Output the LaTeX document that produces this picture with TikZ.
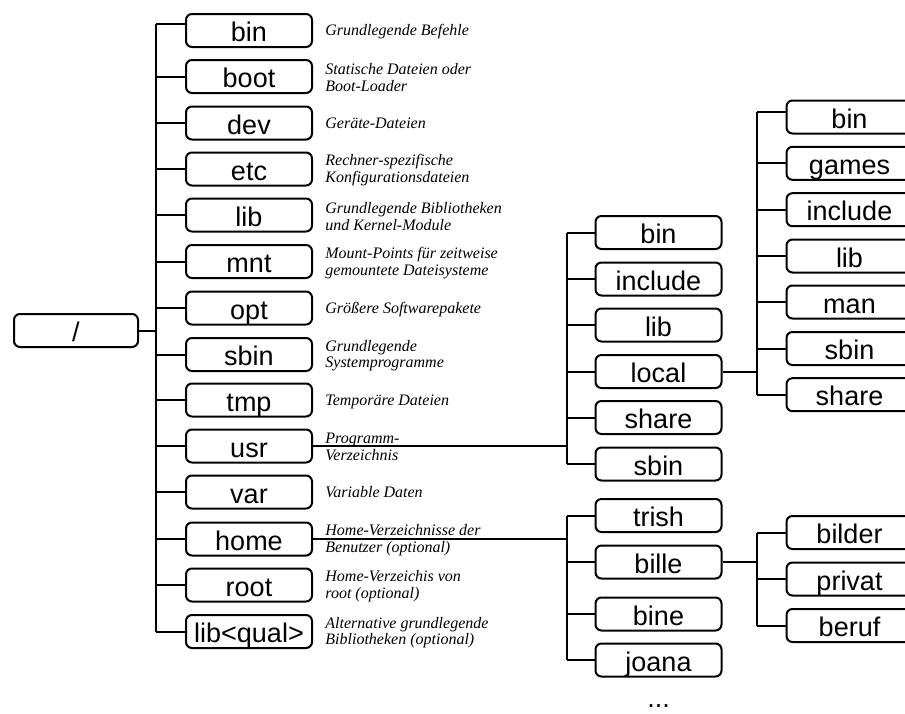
\documentclass[tikz,border=0pt]{standalone}
\usepackage{fontspec}
\setmainfont{Liberation Serif}
\setsansfont{Liberation Sans}
\usetikzlibrary{positioning}

\begin{document}
\begin{tikzpicture}[x=0.5pt, y=-0.5pt,
        dir/.style={draw=black, line width=1pt, rounded corners=3pt, minimum width=63pt, minimum height=16.5pt, inner sep=0pt, text height=11pt, text depth=0pt, font=\sffamily\fontsize{13.5}{16}\selectfont},
        desc/.style={align=left, inner sep=0pt, yshift=-0.6pt, font=\itshape\fontsize{8}{8.4}\selectfont},
        desc1/.style={desc, text height=5.6pt, text depth=1.8pt},
        link/.style={line width=1pt}]
        \useasboundingbox (0,0) rectangle (905,713);
        \clip (0,0) rectangle (905,713);
        \node [dir, minimum width=62pt] (root) at (76,330.5) {/};
        \node [dir] (bin) at (249,30.5) {bin};
        \node [dir] (boot) at (249,76.5) {boot};
        \node [dir] (dev) at (249,123) {dev};
        \node [dir] (etc) at (249,169) {etc};
        \node [dir] (lib) at (249,215) {lib};
        \node [dir] (mnt) at (249,261.5) {mnt};
        \node [dir] (opt) at (249,308) {opt};
        \node [dir] (sbin) at (249,354.5) {sbin};
        \node [dir] (tmp) at (249,400) {tmp};
        \node [dir] (usr) at (249,446) {usr};
        \node [dir] (var) at (249,492) {var};
        \node [dir] (home) at (249,539) {home};
        \node [dir] (rootdir) at (249,585) {root};
        \node [dir] (libqual) at (249,631.5) {lib<qual>};
        \node [desc1, right=6pt of bin] (dbin) {Grundlegende Befehle};
        \node [desc, right=6pt of boot] (dboot) {Statische Dateien oder\\Boot-Loader};
        \node [desc1, right=6pt of dev] (ddev) {Geräte-Dateien};
        \node [desc, right=6pt of etc] (detc) {Rechner-spezifische\\Konfigurationsdateien};
        \node [desc, right=6pt of lib] (dlib) {Grundlegende Bibliotheken\\und Kernel-Module};
        \node [desc, right=6pt of mnt] (dmnt) {Mount-Points für zeitweise\\gemountete Dateisysteme};
        \node [desc1, right=6pt of opt] (dopt) {Größere Softwarepakete};
        \node [desc, right=6pt of sbin] (dsbin) {Grundlegende\\Systemprogramme};
        \node [desc1, right=6pt of tmp] (dtmp) {Temporäre Dateien};
        \node [desc, right=6pt of usr] (dusr) {Programm-\\Verzeichnis};
        \node [desc1, right=6pt of var] (dvar) {Variable Daten};
        \node [desc, right=6pt of home] (dhome) {Home-Verzeichnisse der\\Benutzer (optional)};
        \node [desc, right=6pt of rootdir] (drootdir) {Home-Verzeichis von\\root (optional)};
        \node [desc, right=6pt of libqual] (dlibqual) {Alternative grundlegende\\Bibliotheken (optional)};

        \node [dir] (ubin) at (658.5,232.5) {bin};
        \node [dir] (uinclude) at (658.5,279) {include};
        \node [dir] (ulib) at (658.5,325) {lib};
        \node [dir] (ulocal) at (658.5,371.5) {local};
        \node [dir] (ushare) at (658.5,417.5) {share};
        \node [dir] (usbin) at (658.5,464) {sbin};

        \node [dir] (lbin) at (849.5,117) {bin};
        \node [dir] (lgames) at (849.5,163.3) {games};
        \node [dir] (linclude) at (849.5,209.7) {include};
        \node [dir] (llib) at (849.5,256) {lib};
        \node [dir] (lman) at (849.5,302) {man};
        \node [dir] (lsbin) at (849.5,348.5) {sbin};
        \node [dir] (lshare) at (849.5,394.7) {share};

        \node [dir] (trish) at (658.5,515.5) {trish};
        \node [dir] (bille) at (658.5,562) {bille};
        \node [dir] (bine) at (658.5,614) {bine};
        \node [dir] (joana) at (658.5,660) {joana};

        \node [dir] (bilder) at (849.5,532.5) {bilder};
        \node [dir] (privat) at (849.5,579) {privat};
        \node [dir] (beruf) at (849.5,625.5) {beruf};

        \node [font=\sffamily\fontsize{13.5}{16}\selectfont, anchor=base, inner sep=0pt] (more) at (658.5,707) {...};

        \coordinate (T) at (156,330.5);
        \coordinate (bintop) at ([yshift=3.2pt]bin.west);
        \draw [link] (root) -- (T);
        \draw [link] (T |- bintop) -- (T |- libqual);
        \draw [link] (T |- bintop) -- (bintop);
        \foreach \d in {boot,dev,etc,lib,mnt,opt,sbin,tmp,usr,var,home,rootdir,libqual}
            \draw [link] (T |- \d) -- (\d);

        \coordinate (U) at (567,446);
        \draw [link] (usr) -- (U);
        \draw [link] (U |- ubin) -- (U |- usbin);
        \foreach \d in {ubin,uinclude,ulib,ulocal,ushare,usbin}
            \draw [link] (U |- \d) -- (\d);

        \coordinate (L) at (757,371.5);
        \coordinate (lbintop) at ([yshift=2.6pt]lbin.west);
        \draw [link] (ulocal) -- (L);
        \draw [link] (L |- lbintop) -- (L |- lshare);
        \draw [link] (L |- lbintop) -- (lbintop);
        \foreach \d in {lgames,linclude,llib,lman,lsbin,lshare}
            \draw [link] (L |- \d) -- (\d);

        \coordinate (H) at (567,539);
        \draw [link] (home) -- (H);
        \draw [link] (H |- trish) -- (H |- joana);
        \foreach \d in {trish,bille,bine,joana}
            \draw [link] (H |- \d) -- (\d);

        \coordinate (B) at (757,562);
        \draw [link] (bille) -- (B);
        \draw [link] (B |- bilder) -- (B |- beruf);
        \foreach \d in {bilder,privat,beruf}
            \draw [link] (B |- \d) -- (\d);
    \end{tikzpicture}
\end{document}
